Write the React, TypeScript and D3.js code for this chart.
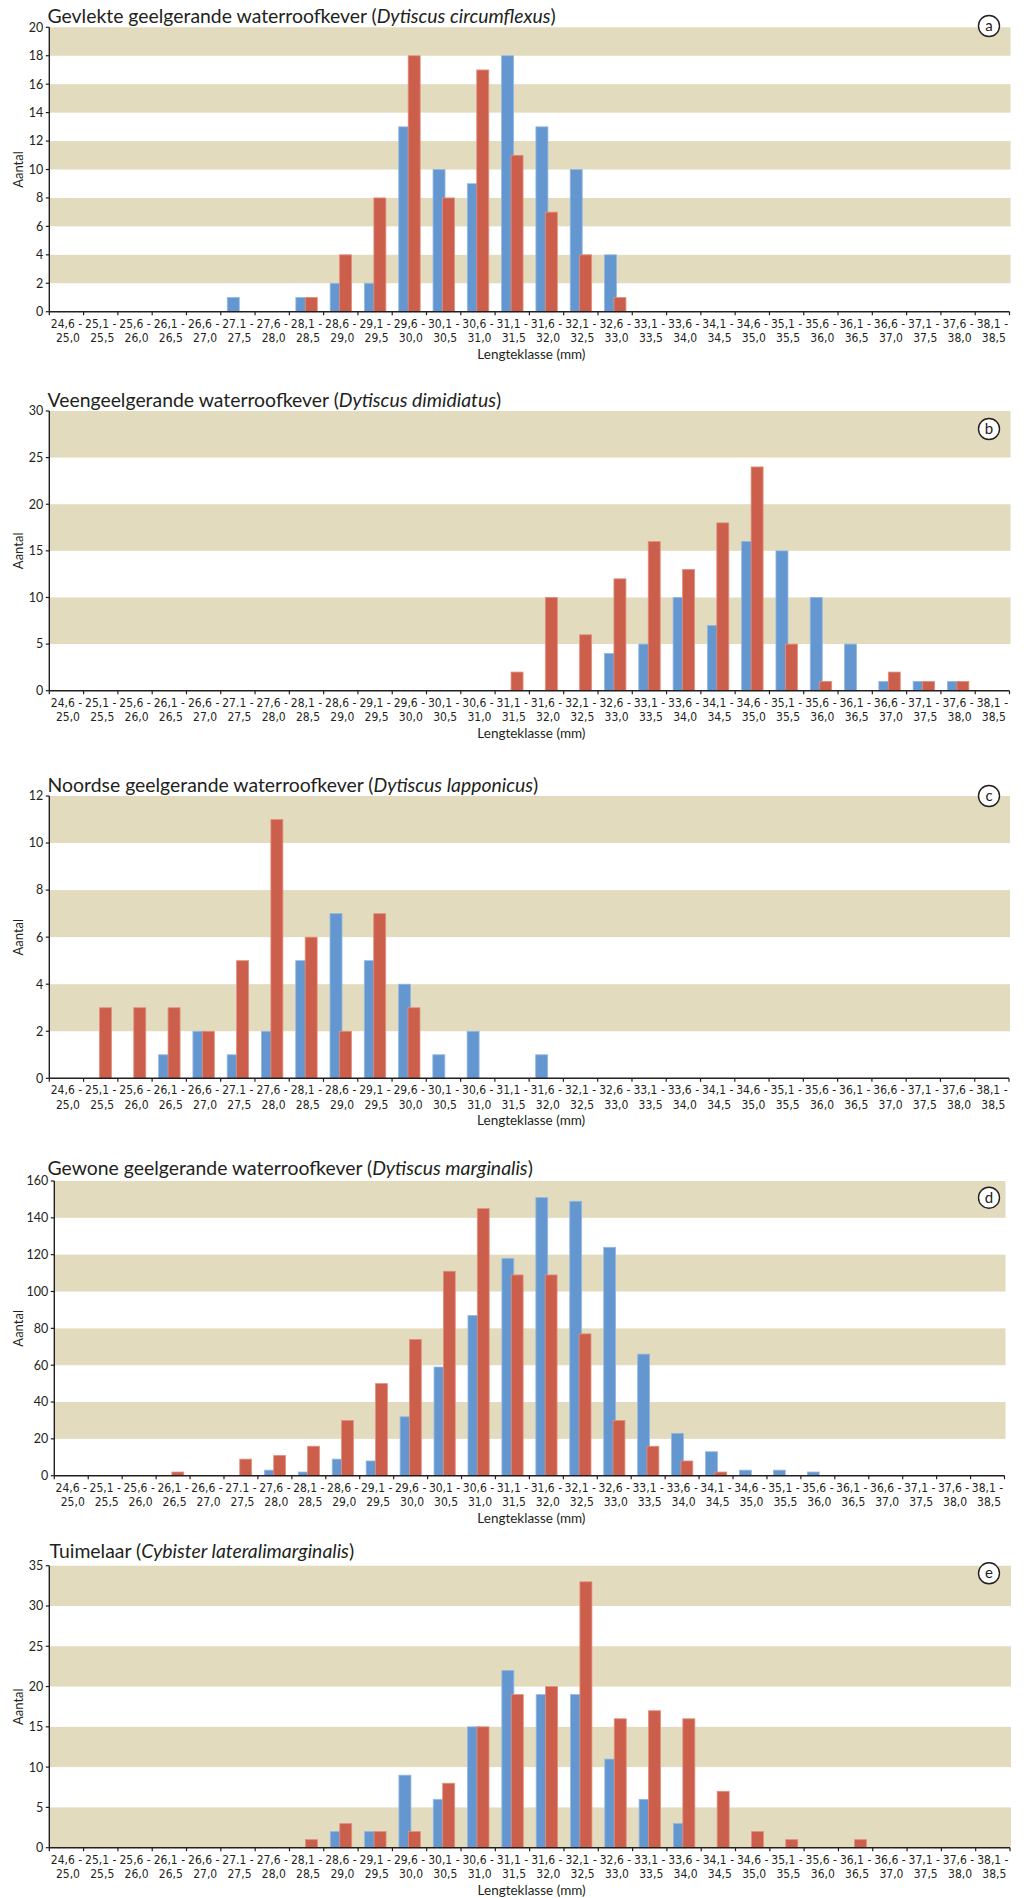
import React from 'react';
import * as d3 from 'd3';

const classStart = ["24,6","25,1","25,6","26,1","26,6","27.1","27,6","28,1","28,6","29,1","29,6","30,1","30,6","31,1","31,6","32,1","32,6","33,1","33,6","34,1","34,6","35,1","35,6","36,1","36,6","37,1","37,6","38,1"];
const classEnd = ["25,0","25,5","26,0","26,5","27,0","27,5","28,0","28,5","29,0","29,5","30,0","30,5","31,0","31,5","32,0","32,5","33,0","33,5","34,0","34,5","35,0","35,5","36,0","36,5","37,0","37,5","38,0","38,5"];

const aBlue = [0,0,0,0,0,1,0,1,2,2,13,10,9,18,13,10,4,0,0,0,0,0,0,0,0,0,0,0];
const aRed  = [0,0,0,0,0,0,0,1,4,8,18,8,17,11,7,4,1,0,0,0,0,0,0,0,0,0,0,0];
const bBlue = [0,0,0,0,0,0,0,0,0,0,0,0,0,0,0,0,4,5,10,7,16,15,10,5,1,1,1,0];
const bRed  = [0,0,0,0,0,0,0,0,0,0,0,0,0,2,10,6,12,16,13,18,24,5,1,0,2,1,1,0];
const cBlue = [0,0,0,1,2,1,2,5,7,5,4,1,2,0,1,0,0,0,0,0,0,0,0,0,0,0,0,0];
const cRed  = [0,3,3,3,2,5,11,6,2,7,3,0,0,0,0,0,0,0,0,0,0,0,0,0,0,0,0,0];
const dBlue = [0,0,0,0,0,0,3,2,9,8,32,59,87,118,151,149,124,66,23,13,3,3,2,0,0,0,0,0];
const dRed  = [0,0,0,2,0,9,11,16,30,50,74,111,145,109,109,77,30,16,8,2,0,0,0,0,0,0,0,0];
const eBlue = [0,0,0,0,0,0,0,0,2,2,9,6,15,22,19,19,11,6,3,0,0,0,0,0,0,0,0,0];
const eRed  = [0,0,0,0,0,0,0,1,3,2,2,8,15,19,20,33,16,17,16,7,2,1,0,1,0,0,0,0];

const commonNames = ["Gevlekte geelgerande waterroofkever", "Veengeelgerande waterroofkever", "Noordse geelgerande waterroofkever", "Gewone geelgerande waterroofkever", "Tuimelaar"];
const sciNames = ["Dytiscus circumflexus", "Dytiscus dimidiatus", "Dytiscus lapponicus", "Dytiscus marginalis", "Cybister lateralimarginalis"];
const panelLetters = ["a", "b", "c", "d", "e"];
const yMax = [20, 30, 12, 160, 35];
const yStep = [2, 5, 2, 20, 5];
const blueSeries = [aBlue, bBlue, cBlue, dBlue, eBlue];
const redSeries = [aRed, bRed, cRed, dRed, eRed];

const yLabel = "Aantal";
const xLabel = "Lengteklasse (mm)";

// layout (pixels)
const layout = [
  { left: 49.3, right: 1009.5, top: 27.3, bottom: 311.7, titleY: 22.5, titleX: 47.5, circleY: 26 },
  { left: 49.3, right: 1009.5, top: 411, bottom: 690.7, titleY: 406.5, titleX: 47.5, circleY: 429 },
  { left: 49.3, right: 1009, top: 796, bottom: 1078.3, titleY: 791.5, titleX: 47.5, circleY: 796 },
  { left: 54.3, right: 1004.5, top: 1181, bottom: 1475.7, titleY: 1175, titleX: 47.5, circleY: 1197.7 },
  { left: 49.3, right: 1010, top: 1565.7, bottom: 1847.7, titleY: 1558.3, titleX: 49.5, circleY: 1573.3 },
];

const BLUE = "#6497D0";
const BLUE_EDGE = "#94B9E3";
const RED = "#CC5F4C";
const RED_EDGE = "#E2917F";
const BEIGE = "#E3DBBE";
const AXIS = "#231F20";
const TEXT = "#231F20";
const FONT = "Lato, 'Open Sans', sans-serif";
const NARROW = "'Liberation Sans Narrow', 'DejaVu Sans Condensed', Lato, sans-serif";

function Panel({ i }: { i: number }) {
  const L = layout[i];
  const x = d3.scaleBand<string>().domain(classStart).range([L.left, L.right]).padding(0);
  const y = d3.scaleLinear().domain([0, yMax[i]]).range([L.bottom, L.top]);
  const ticks = d3.range(0, yMax[i] + yStep[i] / 2, yStep[i]);
  const bw = x.bandwidth();
  const bands = ticks.slice(0, -1).filter((t) => ((yMax[i] - t - yStep[i]) / yStep[i]) % 2 === 0);
  const bandRight = L.right + 1;
  return (
    <g>
      {bands.map((t) => (
        <rect key={"band" + t} x={L.left} y={y(t + yStep[i])} width={bandRight - L.left} height={y(t) - y(t + yStep[i])} fill={BEIGE} />
      ))}
      {classStart.map((c, k) => {
        const x0 = x(c) as number;
        const vb = blueSeries[i][k];
        const vr = redSeries[i][k];
        return (
          <g key={"bar" + k}>
            {vb > 0 && (
              <rect x={x0 + bw * 0.19} y={y(vb)} width={bw * 0.35} height={y(0) - y(vb)} fill={BLUE} stroke={BLUE_EDGE} strokeWidth={0.8} />
            )}
            {vr > 0 && (
              <rect x={x0 + bw * 0.465} y={y(vr)} width={bw * 0.35} height={y(0) - y(vr)} fill={RED} stroke={RED_EDGE} strokeWidth={0.8} />
            )}
          </g>
        );
      })}
      {/* y axis */}
      <line x1={L.left} x2={L.left} y1={L.top} y2={L.bottom} stroke={AXIS} strokeWidth={1.4} />
      {ticks.map((t) => (
        <g key={"yt" + t}>
          <line x1={L.left - 3.5} x2={L.left} y1={y(t)} y2={y(t)} stroke={AXIS} strokeWidth={1.2} />
          <text x={L.left - 6} y={y(t)} dy="0.35em" textAnchor="end" fontFamily={FONT} fontSize={12.5} fill={TEXT}>{t}</text>
        </g>
      ))}
      {/* x axis */}
      <line x1={L.left} x2={L.right} y1={L.bottom} y2={L.bottom} stroke={AXIS} strokeWidth={1.4} />
      {classStart.map((c, k) => (
        <line key={"xt" + k} x1={x(c) as number} x2={x(c) as number} y1={L.bottom} y2={L.bottom + 3.5} stroke={AXIS} strokeWidth={1.2} />
      ))}
      <line x1={L.right} x2={L.right} y1={L.bottom} y2={L.bottom + 3.5} stroke={AXIS} strokeWidth={1.2} />
      {classStart.map((c, k) => (
        <text key={"xl" + k} x={(x(c) as number) + bw / 2} y={L.bottom + 16} textAnchor="middle" fontFamily={NARROW} fontSize={12} fill={TEXT}>
          <tspan x={(x(c) as number) + bw / 2}>{c + " -"}</tspan>
          <tspan x={(x(c) as number) + bw / 2 + 1.5} dy={14.5}>{classEnd[k]}</tspan>
        </text>
      ))}
      <text x={(L.left + L.right) / 2 + 2} y={L.bottom + 47} textAnchor="middle" fontFamily={FONT} fontSize={13.5} fill={TEXT}>{xLabel}</text>
      <text transform={`translate(23,${(L.top + L.bottom) / 2}) rotate(-90)`} textAnchor="middle" fontFamily={FONT} fontSize={13} fill={TEXT}>{yLabel}</text>
      {/* title */}
      <text x={L.titleX} y={L.titleY} fontFamily={FONT} fontSize={19.4} fill={TEXT}>
        {commonNames[i] + " ("}
        <tspan fontStyle="italic">{sciNames[i]}</tspan>
        {")"}
      </text>
      {/* panel letter */}
      <circle cx={989} cy={L.circleY} r={10.5} fill="#fff" stroke={AXIS} strokeWidth={1.4} />
      <text x={989} y={L.circleY} dy="0.34em" textAnchor="middle" fontFamily={FONT} fontSize={15} fill={TEXT}>{panelLetters[i]}</text>
    </g>
  );
}

export default function App() {
  return (
    <svg width={1036} height={1898} style={{ position: 'absolute', left: 0, top: 0, background: '#fff' }}>
      <rect x={0} y={0} width={1036} height={1898} fill="#fff" />
      {[0, 1, 2, 3, 4].map((i) => (
        <Panel key={i} i={i} />
      ))}
    </svg>
  );
}
